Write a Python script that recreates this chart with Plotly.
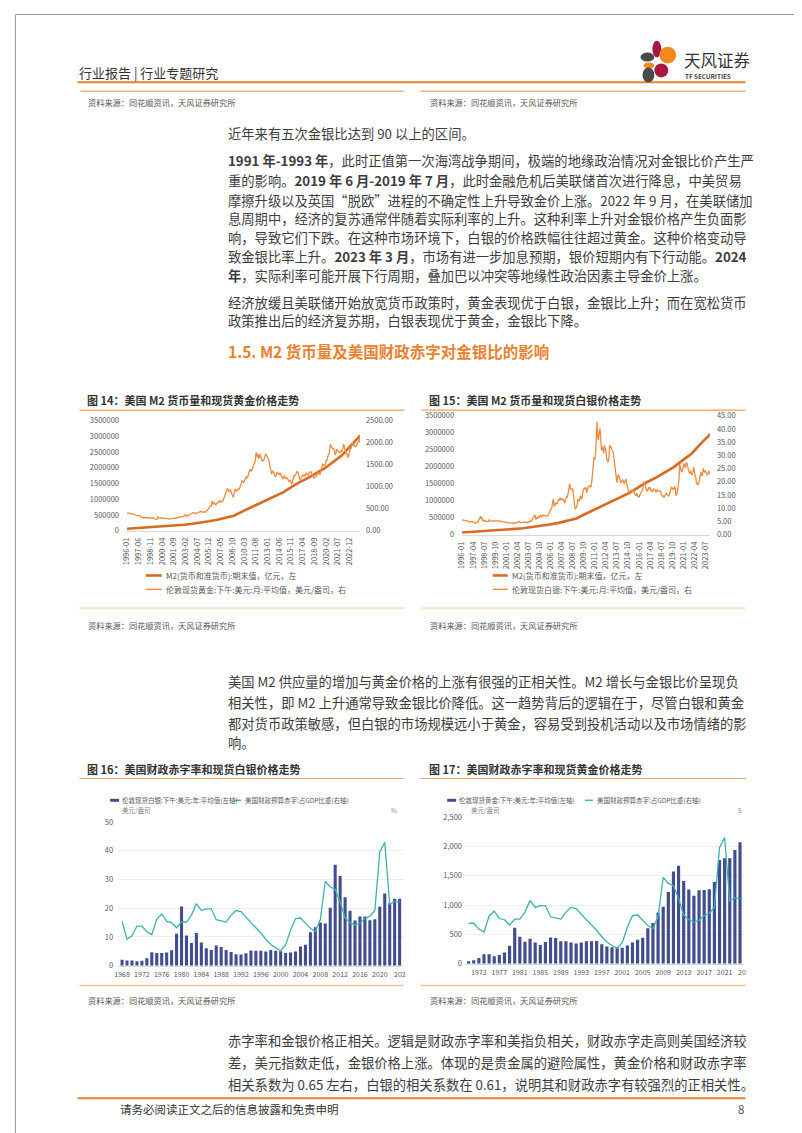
import plotly.graph_objects as go
import pandas as pd

W, H = 802, 1133
def X(px): return px / W
def Y(py): return 1 - py / H

FONT = "Noto Sans CJK SC, Noto Sans, sans-serif"
TXT = "#3d3d3d"
GRAY = "#595959"
ORANGE = "#E8822F"
M2_COLOR = "#D96A22"
GOLD_COLOR = "#EE8B3D"
BAR_COLOR = "#414D8F"
TEAL = "#3BB3AC"

# ---------------- data ----------------
# China M2 (亿元), period-end
m2_dates = ["1996-01-01", "1996-12-01", "1997-12-01", "1998-12-01", "1999-12-01", "2000-12-01",
            "2001-12-01", "2002-12-01", "2003-12-01", "2004-12-01", "2005-12-01", "2006-12-01",
            "2007-12-01", "2008-12-01", "2009-12-01", "2010-12-01", "2011-12-01", "2012-12-01",
            "2013-12-01", "2014-12-01", "2015-12-01", "2016-12-01", "2017-12-01", "2018-12-01",
            "2019-12-01", "2020-12-01", "2021-12-01", "2022-12-01", "2023-12-01", "2024-01-01",
            "2024-02-01", "2024-03-01"]
m2_values = [60000, 76095, 90995, 104499, 119898, 134610, 158302, 185007, 221223, 254107, 298756,
             345604, 403442, 475167, 606225, 725852, 851591, 974159, 1106525, 1228375, 1392278,
             1550067, 1676769, 1826744, 1986489, 2186796, 2382899, 2664321, 2922713, 2976200,
             2992100, 3047900]

# London gold PM, monthly average (USD/oz), 1996-01 .. 2024-03
gold_monthly = [
    399, 405, 396, 393, 392, 385, 383, 387, 383, 381, 378, 369,
    355, 347, 352, 344, 344, 341, 324, 324, 323, 325, 306, 289,
    289, 297, 296, 308, 299, 292, 293, 284, 289, 296, 294, 291,
    287, 288, 286, 282, 277, 261, 256, 257, 265, 311, 293, 283,
    284, 300, 286, 280, 275, 285, 282, 274, 273, 270, 266, 272,
    266, 262, 263, 261, 272, 270, 268, 273, 283, 283, 276, 276,
    282, 296, 294, 302, 314, 321, 313, 310, 319, 317, 319, 333,
    357, 359, 340, 328, 355, 356, 351, 360, 379, 379, 389, 407,
    414, 405, 406, 404, 384, 392, 398, 400, 406, 420, 439, 442,
    424, 423, 434, 429, 422, 430, 424, 437, 456, 470, 476, 510,
    549, 555, 557, 610, 676, 596, 633, 632, 598, 585, 627, 629,
    631, 665, 655, 679, 667, 655, 665, 665, 712, 754, 806, 803,
    889, 922, 968, 909, 888, 890, 939, 839, 829, 806, 760, 816,
    858, 943, 924, 890, 928, 946, 934, 949, 996, 1043, 1127, 1134,
    1118, 1095, 1113, 1148, 1205, 1233, 1193, 1215, 1271, 1342, 1370, 1391,
    1356, 1372, 1424, 1474, 1510, 1529, 1572, 1756, 1772, 1666, 1739, 1652,
    1656, 1743, 1674, 1650, 1585, 1596, 1594, 1626, 1744, 1747, 1722, 1684,
    1671, 1627, 1593, 1487, 1414, 1343, 1286, 1347, 1349, 1316, 1275, 1225,
    1244, 1300, 1336, 1299, 1287, 1279, 1311, 1296, 1239, 1222, 1176, 1202,
    1251, 1227, 1179, 1198, 1199, 1181, 1131, 1117, 1125, 1159, 1086, 1068,
    1097, 1199, 1246, 1242, 1260, 1276, 1337, 1341, 1326, 1267, 1238, 1152,
    1192, 1234, 1231, 1266, 1246, 1260, 1236, 1283, 1315, 1280, 1283, 1265,
    1331, 1331, 1325, 1335, 1303, 1282, 1238, 1202, 1198, 1215, 1220, 1250,
    1291, 1320, 1300, 1285, 1283, 1359, 1413, 1500, 1510, 1495, 1471, 1480,
    1560, 1597, 1591, 1683, 1716, 1732, 1847, 1968, 1921, 1900, 1866, 1858,
    1867, 1808, 1718, 1760, 1850, 1834, 1807, 1785, 1776, 1777, 1821, 1790,
    1817, 1856, 1948, 1937, 1849, 1837, 1733, 1764, 1681, 1665, 1726, 1798,
    1898, 1855, 1912, 1999, 1992, 1942, 1951, 1918, 1916, 1916, 1985, 2027,
    2034, 2023, 2160,
]

# London silver, monthly average (USD/oz), 1996-01 .. 2024-01
silver_monthly = [
    5.45, 5.60, 5.51, 5.35, 5.35, 5.20, 5.07, 5.17, 5.06, 4.87, 4.82, 4.77,
    4.80, 5.13, 5.00, 4.75, 4.80, 4.73, 4.35, 4.51, 4.68, 4.96, 4.86, 5.89,
    6.07, 6.93, 6.14, 6.32, 5.28, 5.38, 5.45, 5.05, 5.20, 5.05, 5.04, 4.90,
    5.15, 5.54, 5.18, 5.08, 5.26, 5.03, 5.21, 5.26, 5.31, 5.35, 5.19, 5.21,
    5.23, 5.26, 5.08, 5.07, 4.97, 5.00, 5.03, 4.93, 4.95, 4.82, 4.67, 4.67,
    4.72, 4.49, 4.37, 4.37, 4.42, 4.37, 4.30, 4.21, 4.41, 4.47, 4.14, 4.44,
    4.24, 4.36, 4.56, 4.57, 4.73, 4.91, 4.98, 4.53, 4.56, 4.42, 4.56, 4.65,
    4.85, 4.63, 4.53, 4.56, 4.73, 4.53, 4.73, 4.99, 5.16, 4.94, 5.10, 5.46,
    6.31, 6.53, 7.31, 7.24, 5.92, 5.96, 6.45, 6.66, 6.37, 7.15, 7.50, 6.98,
    6.59, 7.33, 7.24, 7.09, 7.20, 7.26, 7.03, 6.84, 7.03, 7.60, 7.91, 8.62,
    9.13, 9.68, 10.48, 12.66, 13.51, 10.71, 11.11, 12.12, 11.68, 11.85, 13.18, 13.36,
    12.94, 13.83, 13.10, 13.60, 13.26, 13.34, 12.91, 12.09, 12.87, 13.76, 14.48, 14.29,
    15.98, 17.64, 19.28, 17.23, 16.99, 16.98, 17.56, 14.38, 12.02, 10.13, 9.84, 10.34,
    11.34, 13.44, 13.12, 12.53, 14.09, 14.69, 13.37, 14.36, 16.45, 17.27, 17.82, 17.27,
    17.78, 15.84, 17.11, 18.06, 18.19, 18.46, 17.98, 18.33, 20.55, 23.37, 26.47, 29.36,
    28.39, 30.72, 35.91, 42.68, 37.00, 35.86, 38.57, 40.24, 37.01, 31.91, 33.44, 30.88,
    30.78, 33.82, 33.03, 31.78, 28.89, 28.07, 27.43, 28.65, 33.58, 33.49, 32.95, 32.33,
    31.53, 31.16, 28.78, 25.75, 22.77, 21.09, 19.71, 22.27, 22.56, 21.95, 20.79, 19.58,
    19.93, 20.80, 20.80, 19.74, 19.31, 20.20, 21.05, 19.83, 18.42, 17.19, 15.97, 16.17,
    16.87, 16.83, 16.35, 16.32, 16.81, 16.11, 15.07, 14.98, 14.69, 15.73, 14.63, 14.14,
    14.03, 14.97, 15.45, 16.27, 16.90, 17.15, 20.05, 19.59, 19.26, 17.74, 17.21, 16.35,
    16.84, 17.82, 17.31, 17.99, 16.78, 16.84, 16.05, 16.90, 17.25, 17.07, 16.94, 15.99,
    17.10, 16.56, 16.52, 16.71, 16.55, 16.51, 15.69, 14.87, 14.25, 14.61, 14.26, 14.65,
    15.62, 15.86, 15.21, 15.03, 14.62, 15.11, 15.98, 17.15, 18.07, 17.60, 17.18, 16.93,
    17.97, 17.85, 14.94, 15.05, 16.25, 17.70, 20.55, 26.84, 24.87, 24.09, 23.65, 24.57,
    25.69, 26.97, 25.63, 25.55, 27.37, 26.96, 25.77, 23.89, 23.34, 23.45, 24.23, 22.48,
    23.42, 23.51, 25.47, 24.39, 21.97, 21.55, 19.10, 19.36, 19.02, 19.46, 21.13, 23.19,
    23.70, 22.37, 22.35, 25.08, 24.02, 23.47, 24.24, 23.63, 23.04, 22.40, 23.45, 24.07,
    22.87,
]

c14_xlabels = ["1996-01", "1997-06", "1998-11", "2000-04", "2001-09", "2003-02", "2004-07",
               "2005-12", "2007-05", "2008-10", "2010-03", "2011-08", "2013-01", "2014-06",
               "2015-11", "2017-04", "2018-09", "2020-02", "2021-07", "2022-12"]
c15_xlabels = ["1996-01", "1997-04", "1998-07", "1999-10", "2001-01", "2002-04", "2003-07",
               "2004-10", "2006-01", "2007-04", "2008-07", "2009-10", "2011-01", "2012-04",
               "2013-07", "2014-10", "2016-01", "2017-04", "2018-07", "2019-10", "2021-01",
               "2022-04", "2023-07"]

# Annual silver average (USD/oz), 1968-2024
silver_years = list(range(1968, 2025))
silver_annual = [2.1, 1.8, 1.8, 1.5, 1.7, 2.6, 4.7, 4.4, 4.4, 4.6, 5.4, 11.1, 20.6, 10.5, 7.9,
                 11.4, 8.1, 6.1, 5.5, 7.0, 6.5, 5.5, 4.8, 4.0, 3.9, 4.3, 5.3, 5.2, 5.2, 4.9,
                 5.5, 5.2, 5.0, 4.4, 4.6, 4.9, 6.7, 7.3, 11.6, 13.4, 15.0, 14.7, 20.2, 35.1,
                 31.2, 23.8, 19.1, 15.7, 17.1, 17.1, 15.8, 16.2, 20.5, 25.1, 21.7, 23.3, 23.3]

# Annual gold average (USD/oz), 1971-2024
gold_years = list(range(1971, 2025))
gold_annual = [41, 58, 97, 159, 161, 125, 148, 193, 306, 615, 460, 376, 424, 361, 317, 368, 447,
               437, 381, 384, 362, 344, 360, 384, 384, 388, 331, 294, 279, 279, 271, 310, 363,
               409, 444, 603, 695, 872, 972, 1225, 1572, 1669, 1411, 1266, 1160, 1251, 1257,
               1268, 1393, 1770, 1799, 1800, 1941, 2073]

# US federal budget deficit, % of GDP, 1968-2024
deficit_years = list(range(1968, 2025))
deficit_pct = [2.7, -0.4, 0.2, 1.9, 1.9, 0.9, 0.4, 3.1, 4.0, 2.7, 2.5, 1.6, 2.6, 2.6, 3.8, 5.8,
               4.6, 4.9, 4.9, 3.0, 2.8, 2.6, 3.8, 4.6, 4.4, 3.4, 2.5, 1.6, 0.7, -0.4, -1.3,
               -1.9, -2.4, -1.4, 1.2, 3.2, 3.3, 2.4, 1.5, 1.0, 3.0, 9.7, 8.7, 8.3, 6.1, 3.3,
               2.5, 2.1, 2.4, 3.2, 3.6, 4.6, 14.8, 16.5, 5.7, 6.2, 6.1]

gold_dates = pd.date_range("1996-01-01", periods=len(gold_monthly), freq="MS")
silver_dates = pd.date_range("1996-01-01", periods=len(silver_monthly), freq="MS")
d17 = [(yv, dv) for yv, dv in zip(deficit_years, deficit_pct) if yv >= 1971]

# ---------------- traces ----------------
fig = go.Figure()
fig.add_trace(go.Scatter(x=gold_dates, y=gold_monthly, xaxis="x", yaxis="y2", mode="lines",
                         line=dict(color=GOLD_COLOR, width=1.3), hoverinfo="skip"))
fig.add_trace(go.Scatter(x=m2_dates, y=m2_values, xaxis="x", yaxis="y", mode="lines",
                         line=dict(color=M2_COLOR, width=2.6), hoverinfo="skip"))
fig.add_trace(go.Scatter(x=silver_dates, y=silver_monthly, xaxis="x2", yaxis="y4", mode="lines",
                         line=dict(color=GOLD_COLOR, width=1.3), hoverinfo="skip"))
fig.add_trace(go.Scatter(x=m2_dates[:-2], y=m2_values[:-2], xaxis="x2", yaxis="y3", mode="lines",
                         line=dict(color=M2_COLOR, width=2.6), hoverinfo="skip"))
fig.add_trace(go.Bar(x=silver_years, y=silver_annual, xaxis="x3", yaxis="y5",
                     marker=dict(color=BAR_COLOR, line=dict(width=0)), width=0.62, hoverinfo="skip"))
fig.add_trace(go.Scatter(x=deficit_years, y=deficit_pct, xaxis="x3", yaxis="y6", mode="lines",
                         line=dict(color=TEAL, width=1.3), hoverinfo="skip"))
fig.add_trace(go.Bar(x=gold_years, y=gold_annual, xaxis="x4", yaxis="y7",
                     marker=dict(color=BAR_COLOR, line=dict(width=0)), width=0.62, hoverinfo="skip"))
fig.add_trace(go.Scatter(x=[a for a, b in d17], y=[b for a, b in d17], xaxis="x4", yaxis="y8",
                         mode="lines", line=dict(color=TEAL, width=1.3), hoverinfo="skip"))

tf = dict(size=7.5, color=GRAY, family=FONT)
base = dict(showgrid=False, zeroline=False, ticks="", fixedrange=True)

layout = dict(
    width=W, height=H, margin=dict(l=0, r=0, t=0, b=0),
    paper_bgcolor="white", plot_bgcolor="rgba(0,0,0,0)", showlegend=False,
    font=dict(family=FONT, color=TXT),
    bargap=0.3,
    xaxis=dict(base, domain=[X(113), X(348)], type="date", range=["1996-01-01", "2024-03-01"],
               anchor="y", tickvals=[s + "-01" for s in c14_xlabels], ticktext=c14_xlabels,
               tickangle=-90, tickfont=tf, showline=True, linecolor="#d9d9d9", ticklabelstandoff=3),
    yaxis=dict(base, domain=[Y(521.7), Y(410.7)], range=[0, 3500000], dtick=500000, tick0=0,
               tickformat="d", anchor="x", tickfont=tf, ticklabelstandoff=7),
    yaxis2=dict(base, overlaying="y", side="right", anchor="x", range=[0, 2500], dtick=500,
                tickformat=".2f", tickfont=tf, ticklabelstandoff=5),
    xaxis2=dict(base, domain=[X(451), X(701)], type="date", range=["1996-01-01", "2024-01-01"],
                anchor="y3", tickvals=[s + "-01" for s in c15_xlabels], ticktext=c15_xlabels,
                tickangle=-90, tickfont=tf, showline=True, linecolor="#d9d9d9", ticklabelstandoff=3),
    yaxis3=dict(base, domain=[Y(525.7), Y(405.7)], range=[0, 3500000], dtick=500000, tick0=0,
                tickformat="d", anchor="x2", tickfont=tf, ticklabelstandoff=7),
    yaxis4=dict(base, overlaying="y3", side="right", anchor="x2", range=[0, 45], dtick=5,
                tickformat=".2f", tickfont=tf, ticklabelstandoff=6),
    xaxis3=dict(base, domain=[X(104), X(392)], range=[1967.2, 2024.8], anchor="y5",
                tickvals=list(range(1968, 2021, 4)), tickfont=dict(size=7, color=GRAY, family=FONT),
                showline=True, linecolor="#d9d9d9", ticklabelstandoff=2),
    yaxis5=dict(base, domain=[Y(961), Y(816)], range=[0, 50], dtick=10, anchor="x3",
                showgrid=True, gridcolor="#ededed", gridwidth=1,
                tickfont=dict(size=7.5, color=GRAY, family=FONT), ticklabelstandoff=4),
    yaxis6=dict(base, overlaying="y5", side="right", anchor="x3", range=[-5, 20],
                showticklabels=False),
    xaxis4=dict(base, domain=[X(454), X(735)], range=[1970.3, 2024.7], anchor="y7",
                tickvals=list(range(1973, 2022, 4)), tickfont=dict(size=7, color=GRAY, family=FONT),
                showline=True, linecolor="#d9d9d9", ticklabelstandoff=2),
    yaxis7=dict(base, domain=[Y(959), Y(811)], range=[0, 2500], dtick=500, anchor="x4",
                tickformat=",d", showgrid=True, gridcolor="#ededed", gridwidth=1,
                tickfont=dict(size=7.5, color=GRAY, family=FONT), ticklabelstandoff=2),
    yaxis8=dict(base, overlaying="y7", side="right", anchor="x4", range=[-5, 20],
                showticklabels=False),
)
fig.update_layout(**layout)

# ---------------- text ----------------
ann = []
def txt(px, py, s, size=13.3, color=TXT, xanchor="left", bold=False):
    if bold:
        s = "<b>" + s + "</b>"
    ann.append(dict(x=X(px), y=Y(py), xref="paper", yref="paper", text=s, showarrow=False,
                    xanchor=xanchor, yanchor="middle", font=dict(size=size, color=color, family=FONT)))

# header
txt(63, 59, "行业报告 | 行业专题研究", size=13, color="#333333")
txt(673, 46, "天风证券", size=16.5, color="#333333")
txt(674, 63, "<b>TF SECURITIES</b>", size=6.3, color="#444444")
txt(72, 89, "资料来源：同花顺资讯，天风证券研究所", size=8.2, color="#555555")
txt(417, 89, "资料来源：同花顺资讯，天风证券研究所", size=8.2, color="#555555")

body = [
    (121, "近年来有五次金银比达到 90 以上的区间。"),
    (148, "<b>1991 年-1993 年</b>，此时正值第一次海湾战争期间，极端的地缘政治情况对金银比价产生严"),
    (168, "重的影响。<b>2019 年 6 月-2019 年 7 月</b>，此时金融危机后美联储首次进行降息，中美贸易"),
    (188, "摩擦升级以及英国“脱欧”进程的不确定性上升导致金价上涨。2022 年 9 月，在美联储加"),
    (207, "息周期中，经济的复苏通常伴随着实际利率的上升。这种利率上升对金银价格产生负面影"),
    (226, "响，导致它们下跌。在这种市场环境下，白银的价格跌幅往往超过黄金。这种价格变动导"),
    (245, "致金银比率上升。<b>2023 年 3 月</b>，市场有进一步加息预期，银价短期内有下行动能。<b>2024</b>"),
    (264, "<b>年</b>，实际利率可能开展下行周期，叠加巴以冲突等地缘性政治因素主导金价上涨。"),
    (291, "经济放缓且美联储开始放宽货币政策时，黄金表现优于白银，金银比上升；而在宽松货币"),
    (310, "政策推出后的经济复苏期，白银表现优于黄金，金银比下降。"),
    (674, "美国 M2 供应量的增加与黄金价格的上涨有很强的正相关性。M2 增长与金银比价呈现负"),
    (695, "相关性，即 M2 上升通常导致金银比价降低。这一趋势背后的逻辑在于，尽管白银和黄金"),
    (716, "都对货币政策敏感，但白银的市场规模远小于黄金，容易受到投机活动以及市场情绪的影"),
    (736, "响。"),
    (1037, "赤字率和金银价格正相关。逻辑是财政赤字率和美指负相关，财政赤字走高则美国经济较"),
    (1059, "差，美元指数走低，金银价格上涨。体现的是贵金属的避险属性，黄金价格和财政赤字率"),
    (1081, "相关系数为 0.65 左右，白银的相关系数在 0.61，说明其和财政赤字有较强烈的正相关性。"),
]
for py, s in body:
    txt(213, py, s)

txt(213, 340, "1.5. M2 货币量及美国财政赤字对金银比的影响", size=15.5, color=ORANGE, bold=True)

# chart titles
txt(71, 390, "图 14：美国 M2 货币量和现货黄金价格走势", size=11, color="#333333", bold=True)
txt(416, 390, "图 15：美国 M2 货币量和现货白银价格走势", size=11, color="#333333", bold=True)
txt(71, 762, "图 16：美国财政赤字率和现货白银价格走势", size=11, color="#333333", bold=True)
txt(416, 762, "图 17：美国财政赤字率和现货黄金价格走势", size=11, color="#333333", bold=True)

# legends 14/15
txt(150, 567, "M2(货币和准货币):期末值，亿元，左", size=8, color=GRAY)
txt(150, 581, "伦敦现货黄金:下午:美元:月:平均值，美元/盎司，右", size=8, color=GRAY)
txt(499, 567, "M2(货币和准货币):期末值，亿元，左", size=8, color=GRAY)
txt(499, 581, "伦敦现货白银:下午:美元:月:平均值，美元/盎司，右", size=8, color=GRAY)

# legends 16/17
txt(106, 794, "伦敦现货白银:下午:美元:年:平均值(左轴)", size=6.5, color=GRAY)
txt(230, 794, "美国财政预算赤字:占GDP比重(右轴)", size=6.5, color=GRAY)
txt(106, 804, "美元/盎司", size=6.5, color="#888888")
txt(387, 804, "%", size=6.5, color="#888888", xanchor="right")
txt(446, 794, "伦敦现货黄金:下午:美元:年:平均值(左轴)", size=6.5, color=GRAY)
txt(585, 794, "美国财政预算赤字:占GDP比重(右轴)", size=6.5, color=GRAY)
txt(458, 804, "美元/盎司", size=6.5, color="#888888")
txt(735, 804, "5", size=6.5, color="#888888", xanchor="right")
# truncated last x labels
txt(380.5, 969, "202", size=7, color=GRAY)
txt(727.5, 967, "20", size=7, color=GRAY)

# sources
for sx, sy in [(72, 617), (417, 617), (72, 996), (417, 996)]:
    txt(sx, sy, "资料来源：同花顺资讯，天风证券研究所", size=8.2, color="#555555")

# footer
txt(104, 1106, "请务必阅读正文之后的信息披露和免责申明", size=11.5, color="#333333")
txt(737, 1106, "8", size=11.5, color="#555555", xanchor="right")

fig.update_layout(annotations=ann)

# ---------------- shapes ----------------
shapes = []
def hline(x0, x1, py, color, width):
    shapes.append(dict(type="line", xref="paper", yref="paper", x0=X(x0), x1=X(x1), y0=Y(py), y1=Y(py),
                       line=dict(color=color, width=width)))

hline(63, 737, 69, "#E8822F", 2)
hline(66, 392, 78, "#F2B27E", 1.6)
hline(409, 737, 78, "#F2B27E", 1.6)
hline(65, 393, 400, "#F0A060", 1.2)
hline(410, 737, 400, "#F0A060", 1.2)
hline(65, 392, 772, "#F0A060", 1.2)
hline(409, 737, 772, "#F0A060", 1.2)
hline(65, 393, 600, "#FBE2C2", 1.6)
hline(410, 737, 600, "#FBE2C2", 1.6)
hline(65, 392, 981, "#F4BE8E", 1.4)
hline(409, 737, 981, "#F4BE8E", 1.4)
hline(63, 737, 1095, "#E8822F", 2)

# legend samples
hline(132, 148, 567, M2_COLOR, 2.6)
hline(132, 148, 581, GOLD_COLOR, 1.5)
hline(482, 497, 567, M2_COLOR, 2.6)
hline(482, 497, 581, GOLD_COLOR, 1.5)
hline(221, 228, 794, TEAL, 1.4)
hline(575, 583, 794, TEAL, 1.4)
for bx in (96, 436):
    shapes.append(dict(type="rect", xref="paper", yref="paper", x0=X(bx), x1=X(bx + 9),
                       y0=Y(795.5), y1=Y(792.5), fillcolor=BAR_COLOR, line=dict(width=0)))

# logo petals
petals = [
    (643, 652, 27, 44, "#A8173F"),
    (650, 667, 33, 50, "#F08A1C"),
    (631, 645, 39, 48, "#4A4A4A"),
    (634, 645, 49, 55, "#F08A1C"),
    (645, 659, 50, 64, "#A8173F"),
    (633, 645, 54, 69, "#4A4A4A"),
]
for x0, x1, y0, y1, c in petals:
    shapes.append(dict(type="circle", xref="paper", yref="paper", x0=X(x0), x1=X(x1),
                       y0=Y(y1), y1=Y(y0), fillcolor=c, line=dict(width=0)))

# page border
shapes.append(dict(type="rect", xref="paper", yref="paper", x0=X(0.5), x1=X(801.5), y0=Y(1132.5),
                   y1=Y(0.5), line=dict(color="#9a9a9a", width=1)))

fig.update_layout(shapes=shapes)
fig.write_html("out.html")
